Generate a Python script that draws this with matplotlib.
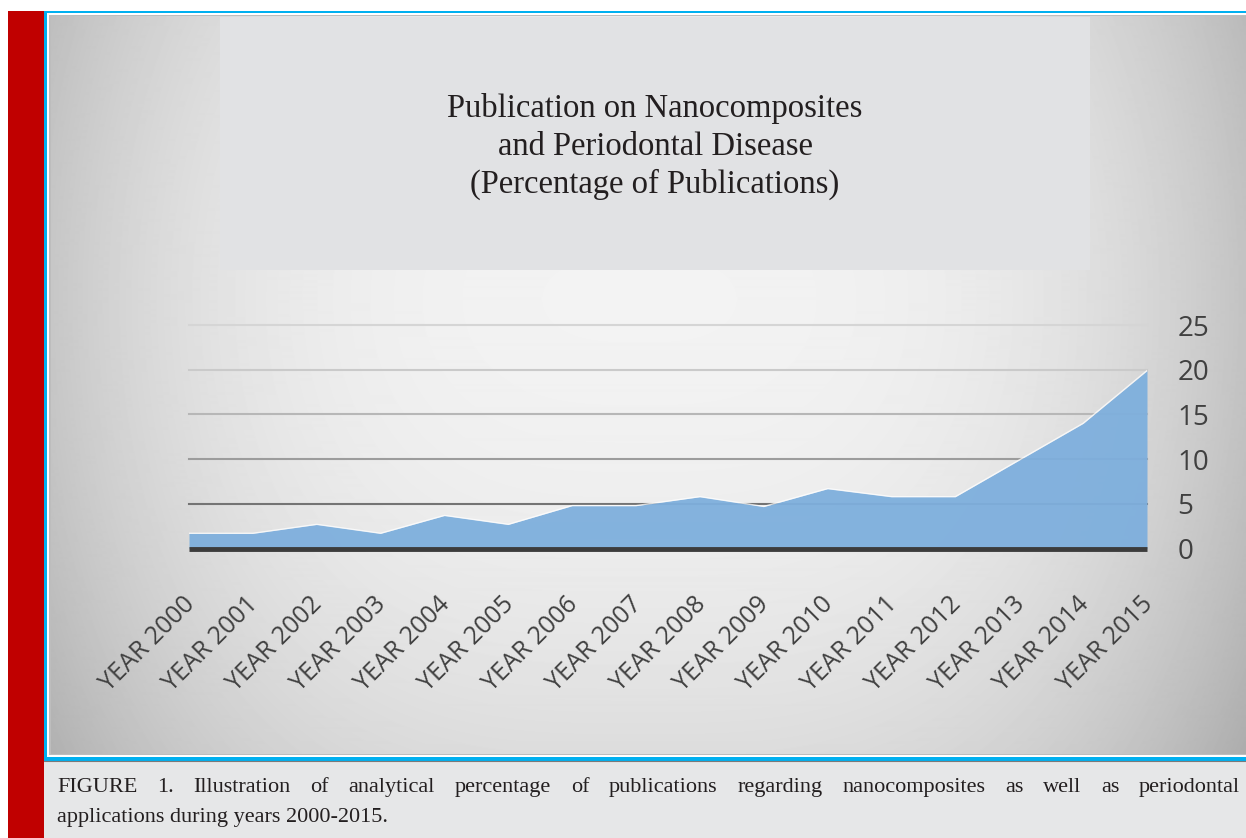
import numpy as np
import matplotlib
matplotlib.use("Agg")
import matplotlib.pyplot as plt
import matplotlib.transforms as mtransforms
from matplotlib.patches import Rectangle

years = ["YEAR %d" % y for y in range(2000, 2016)]
share = [1.7, 1.7, 2.7, 1.7, 3.7, 2.7, 4.8, 4.8, 5.8, 4.7, 6.7, 5.8, 5.8, 9.9, 14.0, 19.9]
yticks = [0, 5, 10, 15, 20, 25]
title_lines = ["Publication on Nanocomposites",
               "and Periodontal Disease",
               "(Percentage of Publications)"]
caption_1 = ("FIGURE 1. Illustration of analytical percentage of publications "
             "regarding nanocomposites as well as periodontal")
caption_2 = "applications during years 2000-2015."

W, H = 1246, 838
fig = plt.figure(figsize=(W / 100, H / 100), dpi=100)
fig.patch.set_facecolor("white")

# page decoration, drawn in pixel coordinates
bg = fig.add_axes([0, 0, 1, 1])
bg.set_xlim(0, W)
bg.set_ylim(H, 0)
bg.axis("off")

bg.add_patch(Rectangle((8, 10.7), 36, H, color="#c00000", lw=0))
bg.add_patch(Rectangle((44, 760), W - 44, H - 760, color="#e6e7e8", lw=0))
bg.add_patch(Rectangle((44, 10.7), W - 44, 750, color="#00b0f0", lw=0))
bg.add_patch(Rectangle((47, 13.3), W - 47, 744, color="white", lw=0))
bg.add_patch(Rectangle((49, 15.3), W - 49, 740, color="#bdbdbd", lw=0))
bg.plot([44, W], [760.5, 760.5], color="#7a7a7a", lw=0.8)

# grey gradient panel
gx = np.arange(51, W) + 0.5
gy = np.arange(17, 754) + 0.5
X, Y = np.meshgrid(gx, gy)
dx = np.abs(X - 640) / 620.0
dy = (Y - 300) / 600.0
shade = np.clip(0.95 - 0.2 * dx ** 3 - 0.15 * dy ** 2, 0, 1)
bg.imshow(shade, cmap="gray", vmin=0, vmax=1, extent=(51, W, 754, 17),
          aspect="auto", interpolation="bilinear", zorder=1)

# flat title box
bg.add_patch(Rectangle((220, 17), 870, 253, color="#e1e2e4", lw=0, zorder=2))
for line, yb in zip(title_lines, [117, 155, 193]):
    bg.text(655, yb, line, ha="center", va="baseline", fontsize=23.5,
            family="Liberation Serif", color="#231f20", zorder=3)

# chart axes
x = np.arange(len(years))
ax = fig.add_axes([189 / W, (H - 548.5) / H, 958 / W, 223.5 / H])
ax.patch.set_alpha(0)
ax.set_xlim(0, len(years) - 1)
ax.set_ylim(0, 25)

grid_cols = {5: "#747474", 10: "#9c9c9c", 15: "#b7b7b7", 20: "#cacaca", 25: "#d5d5d5"}
for v, c in grid_cols.items():
    ax.axhline(v, color=c, lw=1.5, zorder=1, clip_on=False)

ax.fill_between(x, share, 0, color="#7eafdd", alpha=0.95, lw=0, zorder=2)
ax.plot(x, share, color="white", lw=1.0, alpha=0.75, zorder=3)
ax.plot([0, len(years) - 1], [0, 0], color="#3c3c3c", lw=3.5,
        solid_capstyle="butt", zorder=4, clip_on=False)

for s in ax.spines.values():
    s.set_visible(False)

ax.yaxis.tick_right()
ax.set_yticks(yticks)
ax.set_yticklabels([str(t) for t in yticks], family="Open Sans", fontsize=20,
                   color="#404040")
ax.tick_params(axis="y", length=0, pad=22)

ax.set_xticks(x)
ax.set_xticklabels(years, rotation=45, ha="right", va="top",
                   rotation_mode="anchor", family="Open Sans", fontsize=18,
                   color="#404040")
ax.tick_params(axis="x", length=0, pad=31)
shift = mtransforms.ScaledTranslation(-7 / 100, 0, fig.dpi_scale_trans)
for lab in ax.get_xticklabels():
    lab.set_transform(lab.get_transform() + shift)

# justified caption
cap_kw = dict(family="Liberation Serif", fontsize=16, color="#231f20",
              va="baseline")
renderer = fig.canvas.get_renderer()
words = caption_1.split()
x0, x1 = 57, 1240
items = [bg.text(0, 792, w, **cap_kw) for w in words]
widths = [t.get_window_extent(renderer).width for t in items]
gap = (x1 - x0 - sum(widths)) / (len(words) - 1)
pos = x0
for t, w in zip(items, widths):
    t.set_x(pos)
    pos += w + gap
bg.text(x0, 822, caption_2, **cap_kw)

fig.savefig("out.png", dpi=100)
